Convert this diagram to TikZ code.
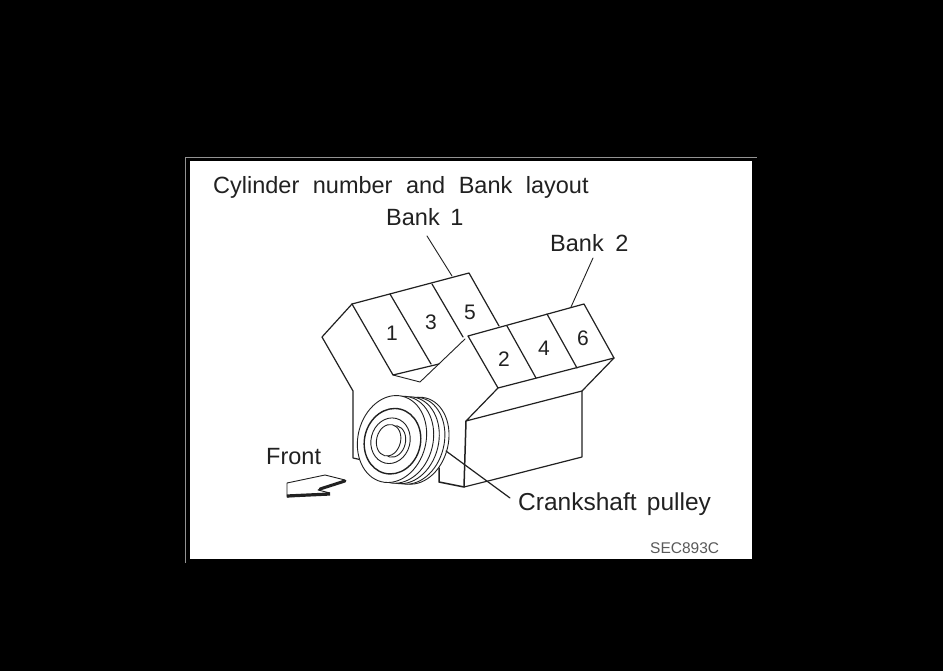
\documentclass[tikz,border=0pt]{standalone}
\usepackage{fontspec}
\setmainfont{Liberation Sans}
\definecolor{ink}{gray}{0.13}
\tikzset{
  part/.style={draw=ink,line width=1.2pt,line join=round,line cap=round},
  thin part/.style={draw=ink,line width=0.9pt,line join=round,line cap=round},
  disc/.style={draw=ink,line width=0.9pt,fill=white},
  num/.style={text=ink,font=\fontsize{21}{21}\selectfont,inner sep=0pt},
  lab/.style={text=ink,font=\fontsize{23.5}{23.5}\selectfont,inner sep=0pt,anchor=base west},
}
\begin{document}
\begin{tikzpicture}[x=1pt,y=-1pt]
\useasboundingbox (0,0) rectangle (943,671);
\fill[black] (0,0) rectangle (943,671);
\draw[gray!85,line width=1pt] (185,563) -- (185,158) -- (757,158);
\fill[white] (190,161) rectangle (752,559);
% Text
\node[lab] (title) at (213,194) {Cylinder\hspace{7pt} number\hspace{7pt} and\hspace{7pt} Bank\hspace{7pt} layout};
\node[lab] (bank1) at (386,226) {Bank\hspace{4pt} 1};
\node[lab] (bank2) at (550,252) {Bank\hspace{5pt} 2};
\node[lab] (front) at (266,464) {Front};
\node[lab,font=\fontsize{24.5}{24.5}\selectfont] (crank) at (518,510) {Crankshaft\hspace{3.5pt} pulley};
\node[text=gray!70!black,font=\fontsize{15.5}{15.5}\selectfont,inner sep=0pt,anchor=base west] (code) at (650,553) {SEC893C};
% Bank 1
\coordinate (a1) at (352,304);
\coordinate (a2) at (469,273);
\coordinate (a3) at (499,326);
\coordinate (a4) at (465,339);
\coordinate (a5) at (420,382);
\coordinate (a6) at (393,375);
\coordinate (a7) at (439,364);
\coordinate (b1) at (322,337);
\coordinate (b2) at (353,391);
\coordinate (b3) at (353,458);
\coordinate (b4) at (362,460);
\draw[part] (b4) -- (b3) -- (b2) -- (b1) -- (a1) -- (a2) -- (a3);
\draw[part] (a1) -- (a6) -- (a7);
\draw[thin part] (a6) -- (a5) -- (a4);
\draw[part] (390,294) -- (431,364);
\draw[part] (432,284) -- (463,337);
% Bank 2
\coordinate (c1) at (468,336);
\coordinate (c2) at (584,304);
\coordinate (c3) at (614,358);
\coordinate (c4) at (498,388);
\coordinate (d1) at (466,421);
\coordinate (d2) at (582,391);
\coordinate (d3) at (582,457);
\coordinate (d4) at (492,480);
\coordinate (d5) at (464,487);
\coordinate (d6) at (439,482);
\coordinate (d7) at (439,468);
\draw[part] (c1) -- (c2) -- (c3) -- (c4) -- cycle;
\draw[part] (507,326) -- (536,378);
\draw[part] (547,314) -- (577,368);
\draw[part] (c4) -- (d1) -- (d2) -- (c3);
\draw[part] (d2) -- (d3) -- (d4) -- (d5);
\draw[part,line width=1.5pt] (d1) -- (d5) -- (d6) -- (d7);
% Pulley
\begin{scope}[rotate around={-14:(400,440)}]
\draw[disc] (415,437) ellipse (33 and 44);
\draw[disc] (411,438) ellipse (33 and 44);
\draw[disc] (405,439) ellipse (33.5 and 44);
\draw[disc] (399,440) ellipse (34 and 44);
\draw[disc] (392,441) ellipse (34 and 44);
\draw[disc,line width=1.4pt] (393,443) ellipse (28 and 33);
\draw[disc] (391,443) ellipse (19.5 and 23);
\draw[disc] (394,443) ellipse (12 and 16);
\draw[disc] (389,443) ellipse (12 and 16);
\end{scope}
% Leaders
\coordinate (l1) at (427,236);
\coordinate (l2) at (452,276);
\coordinate (l3) at (593,258);
\coordinate (l4) at (571,307);
\coordinate (l5) at (446,451);
\coordinate (l6) at (510,498);
\draw[thin part] (l1) -- (l2);
\draw[thin part] (l3) -- (l4);
\draw[part] (l5) -- (l6);
% Numbers
\node[num] (n1) at (392,333) {1};
\node[num] (n3) at (431,322) {3};
\node[num] (n5) at (470,312) {5};
\node[num] (n2) at (504,359) {2};
\node[num] (n4) at (544,348) {4};
\node[num] (n6) at (583,338) {6};
% Front arrow
\draw[thin part,fill=white] (287,483) -- (325,475) -- (345,480) -- (318,490) -- (330,493) -- (287,497) -- cycle;
\draw[ink,line width=3pt,line cap=round] (345,481) -- (320,489);
\draw[ink,line width=3.2pt] (287,496) -- (330,494);
\end{tikzpicture}
\end{document}
